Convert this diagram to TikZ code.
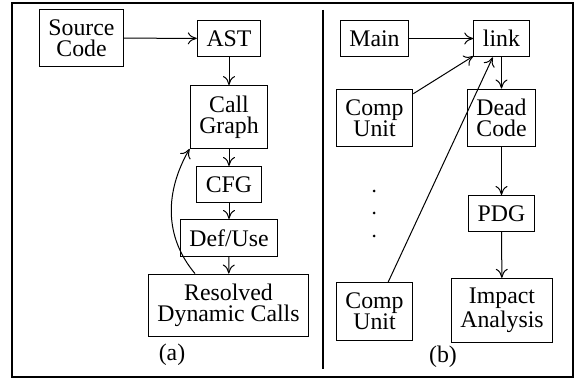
\documentclass[tikz,border=0pt]{standalone}
\usepackage{fontspec}
\setmainfont{Liberation Serif}
\usetikzlibrary{arrows.meta}
\tikzstyle{block} = [rectangle, draw, align=center, inner xsep=4.6pt, inner ysep=5pt]
\tikzstyle{short} = [block, minimum height=16.5pt]
\tikzstyle{dot} = [circle, fill, inner sep=0pt, minimum size=1.5pt]
\tikzstyle{caption} = [inner sep=0pt]

\begin{document}
\begin{tikzpicture}[x=0.5pt,y=0.5pt,line width=0.5pt,>={To[length=4.5pt,width=6pt]},font=\fontsize{11.9}{10.6}\selectfont]
    \useasboundingbox (0,0) rectangle (577,380);
    \draw[line width=0.7pt] (12,3) rectangle (573,377);
    \draw[line width=0.7pt] (323,370) -- (323,11);

    % (a)
    \node [block] (src) at (81.5,342) {Source\\Code};
    \node [short] (ast) at (229,341.5) {AST};
    \node [block] (cg) at (229,263) {Call\\Graph};
    \node [short] (cfg) at (229,195.5) {CFG};
    \node [short] (du) at (229,142) {Def/Use};
    \node [block] (res) at (228.5,74.5) {Resolved\\Dynamic Calls};
    \node [caption] (capa) at (172,25) {(a)};

    \draw[->] (src) -- (ast);
    \draw[->] (ast) -- (cg);
    \draw[->] (cg) -- (cfg);
    \draw[->] (cfg) -- (du);
    \draw[->] (du) -- (res);
    \draw[->] ([xshift=-16.75pt]res.north) to[out=130,in=240] (cg.south west);

    % (b)
    \node [short] (main) at (374.5,341.5) {Main};
    \node [short] (link) at (501.5,341.5) {link};
    \node [block] (cu1) at (374.5,262) {Comp\\Unit};
    \node [block] (dead) at (501.5,262) {Dead\\Code};
    \node [dot] (d1) at (374,189) {};
    \node [dot] (d2) at (374,167) {};
    \node [dot] (d3) at (374,144) {};
    \node [short] (pdg) at (501.5,166.5) {PDG};
    \node [block] (cu2) at (374.5,68.5) {Comp\\Unit};
    \node [block] (imp) at (502,69.5) {Impact\\Analysis};
    \node [caption] (capb) at (443,23) {(b)};

    \draw[->] (main) -- (link);
    \draw[->] (cu1) -- (link);
    \draw[->] (cu2) -- (link);
    \draw[->] (link) -- (dead);
    \draw[->] (dead) -- (pdg);
    \draw[->] (pdg) -- (imp);
\end{tikzpicture}
\end{document}
